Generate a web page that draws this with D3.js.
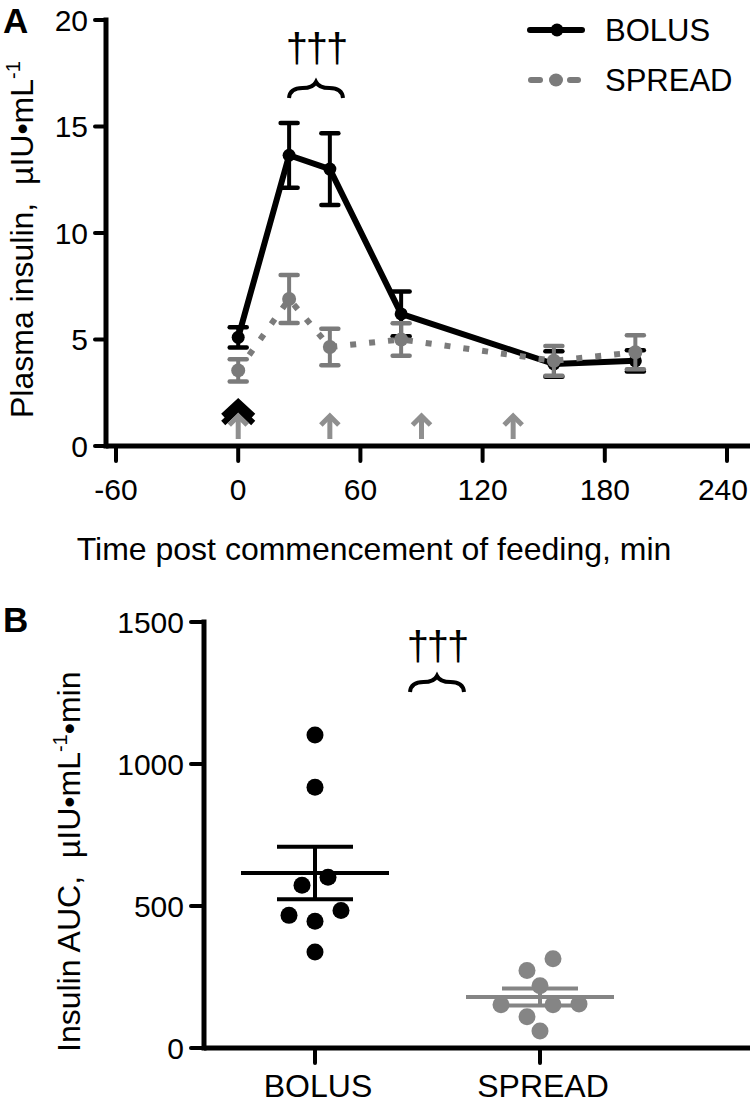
<!DOCTYPE html>
<html><head><meta charset="utf-8">
<script src="https://cdn.jsdelivr.net/npm/d3@7"></script>
<style>
html,body{margin:0;padding:0;background:#fff;}
text{font-family:"Liberation Sans",Arial,sans-serif;white-space:pre;}
</style></head>
<body>
<svg id="c" width="750" height="1105"></svg>
<script>
// ---------- Panel A data ----------
const times = [0, 25, 45, 80, 155, 195];
const bolusMean = [5.1, 13.65, 13.0, 6.2, 3.85, 4.0];
const bolusSem = [0.47, 1.52, 1.68, 1.05, 0.6, 0.5];
const spreadMean = [3.55, 6.9, 4.65, 5.0, 4.0, 4.4];
const spreadSem = [0.52, 1.13, 0.86, 0.76, 0.7, 0.8];
const xTicksA = [-60, 0, 60, 120, 180, 240];
const yTicksA = [0, 5, 10, 15, 20];
const bolusFeeds = [0];
const spreadFeeds = [0, 45, 90, 135];
const seriesNames = ["BOLUS", "SPREAD"];
// ---------- Panel B data ----------
const groups = ["BOLUS", "SPREAD"];
const bolusAUC = [1102, 918, 601, 573, 484, 467, 446, 338];
const spreadAUC = [314, 273, 219, 155, 152, 152, 110, 60];
const yTicksB = [0, 500, 1000, 1500];
const sigLabel = "\u2020\u2020\u2020";

const svg = d3.select("#c");
const BLACK = "#000", GREY = "#7b7b7b", GREYPT = "#858585", ARROW = "#8f8f8f";

// ================= Panel A =================
const xA = d3.scaleLinear().domain([-60, 240]).range([116, 727]);
const yA = d3.scaleLinear().domain([0, 20]).range([446, 20]);
const axisXLeft = 106;

const gA = svg.append("g");
gA.append("line").attr("x1", axisXLeft).attr("x2", axisXLeft).attr("y1", yA(20)).attr("y2", yA(0))
  .attr("stroke", BLACK).attr("stroke-width", 5).attr("stroke-linecap","square");
gA.append("line").attr("x1", axisXLeft).attr("x2", 752).attr("y1", yA(0)).attr("y2", yA(0))
  .attr("stroke", BLACK).attr("stroke-width", 5);
yTicksA.forEach(t => {
  gA.append("line").attr("x1", axisXLeft - 11).attr("x2", axisXLeft).attr("y1", yA(t)).attr("y2", yA(t))
    .attr("stroke", BLACK).attr("stroke-width", 4).attr("stroke-linecap","round");
  gA.append("text").attr("x", 88).attr("y", yA(t)).attr("dy", "0.36em").attr("text-anchor", "end")
    .attr("font-size", 30).text(t);
});
xTicksA.forEach(t => {
  gA.append("line").attr("x1", xA(t)).attr("x2", xA(t)).attr("y1", yA(0)).attr("y2", yA(0) + 15)
    .attr("stroke", BLACK).attr("stroke-width", 4).attr("stroke-linecap","round");
  const tx = gA.append("text").attr("x", xA(t)).attr("y", 500).attr("text-anchor", "middle")
    .attr("font-size", 30).text(t);
  const bb = tx.node().getBBox();
  if (bb.x + bb.width > 748) tx.attr("x", xA(t) - (bb.x + bb.width - 748));
});
gA.append("text").attr("x", 374).attr("y", 560).attr("text-anchor", "middle").attr("font-size", 32)
  .text("Time post commencement of feeding, min");
const ytA = gA.append("text").attr("transform", "translate(33,418) rotate(-90)").attr("font-size", 32);
ytA.append("tspan").text("Plasma insulin,  \u00b5IU\u2022mL");
ytA.append("tspan").attr("dy", -13).attr("font-size", 20).text("-1");
gA.append("text").attr("x", 3).attr("y", 33).attr("font-size", 35).attr("font-weight", "bold").text("A");

// feeding arrows
function chevron(g, cx, tipY, color) {
  g.append("polyline").attr("points", `${cx-15},${tipY+14} ${cx},${tipY} ${cx+15},${tipY+14}`)
    .attr("fill", "none").attr("stroke", color).attr("stroke-width", 6);
}
bolusFeeds.forEach(t => { chevron(gA, xA(t), 402, BLACK); chevron(gA, xA(t), 409, BLACK); });
spreadFeeds.forEach(t => {
  const cx = xA(t);
  gA.append("line").attr("x1", cx).attr("x2", cx).attr("y1", 417).attr("y2", 439)
    .attr("stroke", ARROW).attr("stroke-width", 5);
  gA.append("polyline").attr("points", `${cx-9},${425} ${cx},${416} ${cx+9},${425}`)
    .attr("fill", "none").attr("stroke", ARROW).attr("stroke-width", 5);
});

function drawSeries(g, means, sems, color, dashed, r) {
  const pts = times.map((t, i) => [xA(t), yA(means[i])]);
  const p = g.append("path").attr("d", d3.line()(pts)).attr("fill", "none").attr("stroke", color)
    .attr("stroke-width", 6).attr("stroke-linejoin", "round");
  if (dashed) p.attr("stroke-dasharray", "6,13");
  times.forEach((t, i) => {
    const cx = xA(t), top = yA(means[i] + sems[i]), bot = yA(means[i] - sems[i]);
    g.append("line").attr("x1", cx).attr("x2", cx).attr("y1", top).attr("y2", bot)
      .attr("stroke", color).attr("stroke-width", 4);
    [top, bot].forEach(yy => g.append("line").attr("x1", cx - 8.5).attr("x2", cx + 8.5)
      .attr("y1", yy).attr("y2", yy).attr("stroke", color).attr("stroke-width", 4.5).attr("stroke-linecap","round"));
    g.append("circle").attr("cx", cx).attr("cy", yA(means[i])).attr("r", r).attr("fill", color);
  });
}
drawSeries(gA, bolusMean, bolusSem, BLACK, false, 6.5);
drawSeries(gA, spreadMean, spreadSem, GREY, true, 7);

// legend
const leg = gA.append("g");
leg.append("line").attr("x1", 530).attr("x2", 582).attr("y1", 30).attr("y2", 30)
  .attr("stroke", BLACK).attr("stroke-width", 6).attr("stroke-linecap", "round");
leg.append("circle").attr("cx", 557).attr("cy", 30).attr("r", 6.5).attr("fill", BLACK);
leg.append("text").attr("x", 605).attr("y", 41).attr("font-size", 31).text(seriesNames[0]);
[[531, 540], [570, 578]].forEach(s => leg.append("line").attr("x1", s[0]).attr("x2", s[1])
  .attr("y1", 80).attr("y2", 80).attr("stroke", GREY).attr("stroke-width", 6).attr("stroke-linecap", "round"));
leg.append("ellipse").attr("cx", 556).attr("cy", 80).attr("rx", 7).attr("ry", 6.5).attr("fill", GREY);
leg.append("text").attr("x", 605).attr("y", 91).attr("font-size", 31).text(seriesNames[1]);

function sig(g, cx, baseY, braceY) {
  g.append("text").attr("x", cx).attr("y", baseY).attr("text-anchor", "middle")
    .attr("font-family", "DejaVu Serif").attr("font-size", 40).attr("letter-spacing", -2).text(sigLabel);
  const w = 54, h = 16, y = braceY;
  const d = `M${cx - w/2},${y} Q${cx - w/2 + 1},${y - h*0.62} ${cx - w/4},${y - h*0.62} ` +
            `Q${cx - 3},${y - h*0.62} ${cx},${y - h} ` +
            `Q${cx + 3},${y - h*0.62} ${cx + w/4},${y - h*0.62} ` +
            `Q${cx + w/2 - 1},${y - h*0.62} ${cx + w/2},${y}`;
  g.append("path").attr("d", d).attr("fill", "none").attr("stroke", BLACK).attr("stroke-width", 4);
}
sig(gA, 316, 62, 98);

// ================= Panel B =================
const yB = d3.scaleLinear().domain([0, 1500]).range([1048, 622]);
const xB = d3.scalePoint().domain(groups).range([315, 540]);
const axB = 204;
const gB = svg.append("g");
gB.append("line").attr("x1", axB).attr("x2", axB).attr("y1", yB(1500)).attr("y2", yB(0))
  .attr("stroke", BLACK).attr("stroke-width", 5).attr("stroke-linecap","square");
gB.append("line").attr("x1", axB).attr("x2", 752).attr("y1", yB(0)).attr("y2", yB(0))
  .attr("stroke", BLACK).attr("stroke-width", 5);
yTicksB.forEach(t => {
  gB.append("line").attr("x1", axB - 13).attr("x2", axB).attr("y1", yB(t)).attr("y2", yB(t))
    .attr("stroke", BLACK).attr("stroke-width", 4).attr("stroke-linecap","round");
  gB.append("text").attr("x", 184).attr("y", yB(t)).attr("dy", "0.36em").attr("text-anchor", "end")
    .attr("font-size", 30).text(t);
});
groups.forEach(g => {
  gB.append("line").attr("x1", xB(g)).attr("x2", xB(g)).attr("y1", yB(0)).attr("y2", yB(0) + 15)
    .attr("stroke", BLACK).attr("stroke-width", 4).attr("stroke-linecap","round");
  gB.append("text").attr("x", xB(g) + 3).attr("y", 1097).attr("text-anchor", "middle")
    .attr("font-size", 32).text(g);
});
const ytB = gB.append("text").attr("transform", "translate(80,1052) rotate(-90)").attr("font-size", 32);
ytB.append("tspan").text("Insulin AUC,  \u00b5IU\u2022mL");
ytB.append("tspan").attr("dy", -13).attr("font-size", 20).text("-1");
ytB.append("tspan").attr("dy", 13).text("\u2022min");
gB.append("text").attr("x", 3).attr("y", 632).attr("font-size", 35).attr("font-weight", "bold").text("B");

// row-based scatter layout (points close in value share a row, spread symmetrically)
function swarm(vals, cx) {
  const sorted = vals.slice().sort((a, b) => b - a);
  const rows = []; let cur = null;
  sorted.forEach(v => {
    const py = yB(v);
    if (cur && py - cur.y0 < 13) cur.items.push(v);
    else { cur = {y0: py, items: [v]}; rows.push(cur); }
  });
  const out = [], step = 26;
  rows.forEach(r => {
    const n = r.items.length;
    const slots = d3.range(n).map(i => (i - (n - 1) / 2) * step);
    // assignment order: rightmost, leftmost, next right, next left ... inward
    const order = []; let lo = 0, hi = n - 1, right = true;
    while (lo <= hi) { if (right) order.push(hi--); else order.push(lo++); right = !right; }
    r.items.forEach((v, i) => out.push({v, x: cx + slots[order[i]]}));
  });
  return out;
}
function drawGroup(vals, g, color) {
  const cx = xB(g);
  const mean = d3.mean(vals), sem = d3.deviation(vals) / Math.sqrt(vals.length);
  swarm(vals, cx).forEach(p => gB.append("circle").attr("cx", p.x).attr("cy", yB(p.v)).attr("r", 8.5).attr("fill", color));
  gB.append("line").attr("x1", cx - 74).attr("x2", cx + 74).attr("y1", yB(mean)).attr("y2", yB(mean))
    .attr("stroke", color).attr("stroke-width", 4);
  gB.append("line").attr("x1", cx).attr("x2", cx).attr("y1", yB(mean + sem)).attr("y2", yB(mean - sem))
    .attr("stroke", color).attr("stroke-width", 4);
  [mean + sem, mean - sem].forEach(v => gB.append("line").attr("x1", cx - 38).attr("x2", cx + 38)
    .attr("y1", yB(v)).attr("y2", yB(v)).attr("stroke", color).attr("stroke-width", 4));
}
drawGroup(bolusAUC, groups[0], BLACK);
drawGroup(spreadAUC, groups[1], GREYPT);
sig(gB, 437, 660, 692);
</script>
</body></html>
